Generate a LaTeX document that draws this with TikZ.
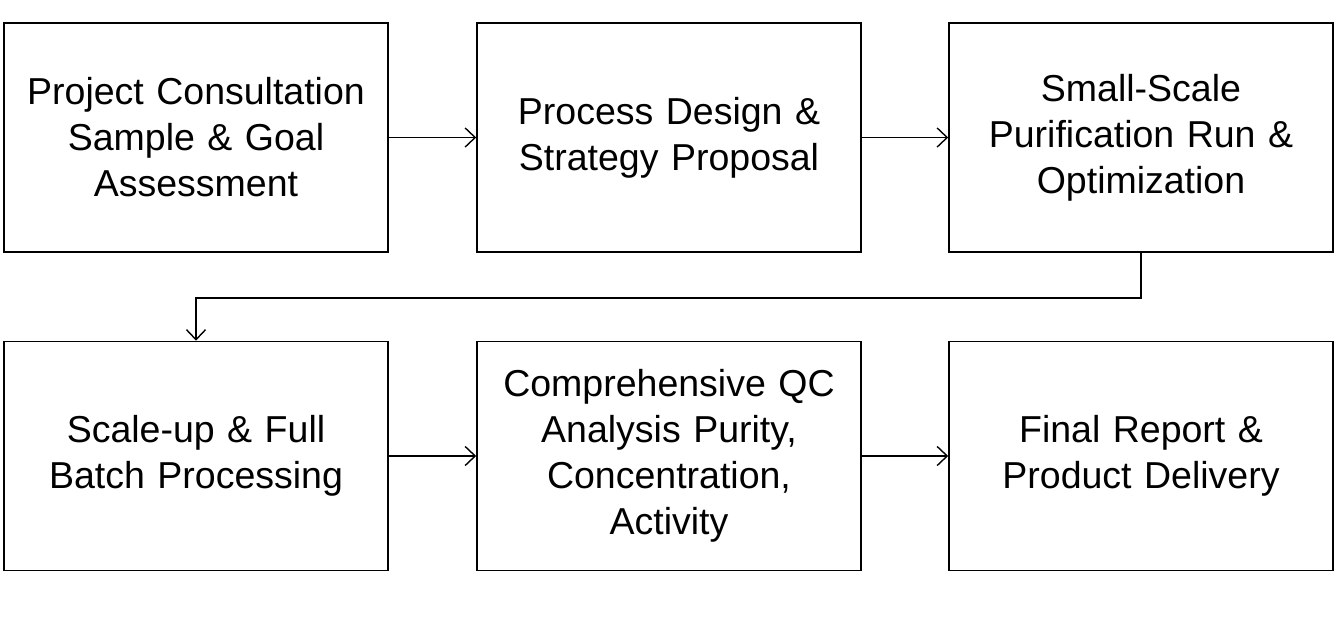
\documentclass[tikz,border=0pt]{standalone}
\usepackage{fontspec}
\setmainfont{Liberation Sans}
\usetikzlibrary{arrows.meta}
\begin{document}
\begin{tikzpicture}[x=1pt,y=-1pt,
  stepbox/.style={draw=black,line width=1.6pt,minimum width=384pt,minimum height=229pt,inner sep=0pt,align=center,text width=375pt,font=\fontsize{37.5}{46}\selectfont},
  conn/.style={draw=black,line width=1.4pt,-{Straight Barb[length=10pt,width=19pt,line width=1.4pt]}}]
\useasboundingbox (0,0) rectangle (1341,616);
\node[stepbox] (a) at (196,137.5) {Project Consultation\\Sample \& Goal\\Assessment};
\node[stepbox] (b) at (669,137.5) {Process Design \&\\Strategy Proposal};
\node[stepbox] (c) at (1141,137.5) {Small-Scale\\Purification Run \&\\Optimization};
\node[stepbox] (d) at (196,456) {Scale-up \& Full\\Batch Processing};
\node[stepbox] (e) at (669,456) {Comprehensive QC\\Analysis Purity,\\Concentration,\\Activity};
\node[stepbox] (f) at (1141,456) {Final Report \&\\Product Delivery};
\draw[conn] (a) -- (b);
\draw[conn] (b) -- (c);
\draw[conn] (c.south) -- ++(0,45) -| (d.north);
\draw[conn] (d) -- (e);
\draw[conn] (e) -- (f);
\end{tikzpicture}
\end{document}
